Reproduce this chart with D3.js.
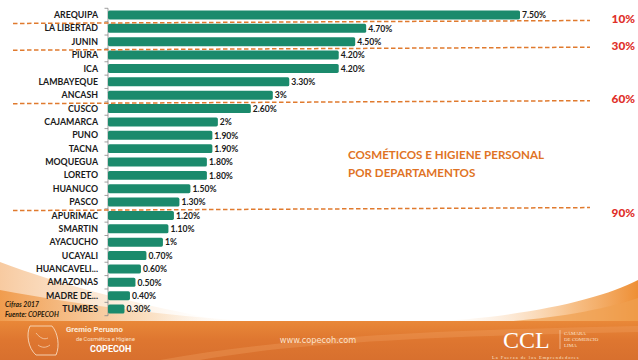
<!DOCTYPE html>
<html><head><meta charset="utf-8">
<script src="https://cdn.jsdelivr.net/npm/d3@7"></script>
<style>html,body{margin:0;padding:0;background:#fff;}svg{display:block;}</style>
</head><body>
<svg id="c" width="638" height="360"></svg>
<script>
const categories = ["AREQUIPA","LA LIBERTAD","JUNIN","PIURA","ICA","LAMBAYEQUE","ANCASH","CUSCO","CAJAMARCA","PUNO","TACNA","MOQUEGUA","LORETO","HUANUCO","PASCO","APURIMAC","SMARTIN","AYACUCHO","UCAYALI","HUANCAVELI...","AMAZONAS","MADRE DE...","TUMBES"];
const values = [7.5,4.7,4.5,4.2,4.2,3.3,3,2.6,2,1.9,1.9,1.8,1.8,1.5,1.3,1.2,1.1,1,0.7,0.6,0.5,0.4,0.3];
const valueLabels = ["7.50%","4.70%","4.50%","4.20%","4.20%","3.30%","3%","2.60%","2%","1.90%","1.90%","1.80%","1.80%","1.50%","1.30%","1.20%","1.10%","1%","0.70%","0.60%","0.50%","0.40%","0.30%"];
const cutAfter = ["AREQUIPA","JUNIN","ANCASH","PASCO"];
const cutLabels = ["10%","30%","60%","90%"];
const titleLines = ["COSMÉTICOS E HIGIENE PERSONAL","POR DEPARTAMENTOS"];
const notes = ["Cifras 2017","Fuente: COPECOH"];

const svg = d3.select("#c");
const defs = svg.append("defs");

// background swooshes
const g1 = defs.append("linearGradient").attr("id","sw1").attr("x1",0).attr("y1",0).attr("x2",1).attr("y2",0);
g1.append("stop").attr("offset","0%").attr("stop-color","#f09a4a").attr("stop-opacity",0.95);
g1.append("stop").attr("offset","60%").attr("stop-color","#f8d2a8").attr("stop-opacity",0.55);
g1.append("stop").attr("offset","100%").attr("stop-color","#fff").attr("stop-opacity",0);
const g2 = defs.append("linearGradient").attr("id","sw2").attr("x1",0).attr("y1",0).attr("x2",1).attr("y2",0);
g2.append("stop").attr("offset","0%").attr("stop-color","#fff").attr("stop-opacity",0);
g2.append("stop").attr("offset","70%").attr("stop-color","#f5b06a").attr("stop-opacity",0.8);
g2.append("stop").attr("offset","100%").attr("stop-color","#ee8f35");
const fg = defs.append("linearGradient").attr("id","foot").attr("x1",0).attr("y1",0).attr("x2",0).attr("y2",1);
fg.append("stop").attr("offset","0%").attr("stop-color","#e98838");
fg.append("stop").attr("offset","50%").attr("stop-color","#de7630");
fg.append("stop").attr("offset","100%").attr("stop-color","#d8702e");

svg.append("path").attr("d","M0,262 C60,285 140,305 230,322 L0,322 Z").attr("fill","url(#sw1)").attr("opacity",0.55);
svg.append("path").attr("d","M0,290 C80,305 160,315 260,322 L0,322 Z").attr("fill","url(#sw1)");
svg.append("path").attr("d","M420,322 C520,318 600,300 638,280 L638,322 Z").attr("fill","url(#sw2)");
svg.append("path").attr("d","M500,322 C560,318 610,308 638,298 L638,322 Z").attr("fill","#f0a050").attr("opacity",0.7);
svg.append("rect").attr("x",0).attr("y",321).attr("width",638).attr("height",39).attr("fill","url(#foot)");
svg.append("path").attr("d","M160,360 C300,335 450,330 638,326 L638,332 C450,336 300,342 200,360 Z").attr("fill","#f0a060").attr("opacity",0.35);

// scales
const y = d3.scaleBand().domain(categories).range([8.3,315.7]).paddingInner(0.33).paddingOuter(0.165);
const x = d3.scaleLinear().domain([0,7.5]).range([108,520]);
const step = y.step();
const ctr = c => y(c) + y.bandwidth()/2;

// axis line + ticks
const ax = svg.append("g");
ax.append("line").attr("x1",x(0)).attr("x2",x(0)).attr("y1",8.3).attr("y2",315.7).attr("stroke","#888").attr("stroke-width",0.8);
ax.selectAll("line.t").data(d3.range(categories.length+1)).join("line").attr("class","t")
  .attr("x1",x(0)-3.5).attr("x2",x(0))
  .attr("y1",i=>8.3+i*step).attr("y2",i=>8.3+i*step)
  .attr("stroke","#888").attr("stroke-width",0.8);

// bars
svg.append("g").selectAll("rect").data(categories).join("rect")
  .attr("x",x(0)).attr("y",d=>y(d)).attr("height",y.bandwidth())
  .attr("width",(d,i)=>x(values[i])-x(0)).attr("rx",1.6)
  .attr("fill","#1b8a6c");

// category labels
svg.append("g").selectAll("text").data(categories).join("text")
  .attr("x",98).attr("y",d=>ctr(d)).attr("dy","0.35em").attr("text-anchor","end")
  .attr("font-family","Lato, sans-serif").attr("font-weight","bold").attr("font-size",8.8)
  .attr("fill","#1a1a1a").text(d=>d);

// value labels
svg.append("g").selectAll("text").data(categories).join("text")
  .attr("x",(d,i)=>x(values[i])+2).attr("y",d=>ctr(d)).attr("dy","0.38em")
  .attr("font-family","Lato, sans-serif").attr("font-weight","bold").attr("font-size",8.6)
  .attr("fill","#1a1a1a").text((d,i)=>valueLabels[i]);

// dashed cut lines
cutAfter.forEach((c,k)=>{
  const b = ctr(c) + step/2;
  svg.append("line").attr("x1",13).attr("x2",590).attr("y1",b+1.8).attr("y2",b-1.2)
    .attr("stroke","#e07a2e").attr("stroke-width",1.5).attr("stroke-dasharray","4.5,2.5");
  svg.append("text").attr("x",635).attr("y",b+(k===3?4:-2.5)).attr("dy","0.35em").attr("text-anchor","end")
    .attr("font-family","Lato, sans-serif").attr("font-weight","900").attr("font-size",11.8)
    .attr("fill","#e0302a").text(cutLabels[k]);
});

// title
svg.append("g").selectAll("text").data(titleLines).join("text")
  .attr("x",348).attr("y",(d,i)=>159+i*18)
  .attr("font-family","Lato, sans-serif").attr("font-weight","bold").attr("font-size",11.6)
  .attr("fill","#e07325").text(d=>d);

// notes
svg.append("g").selectAll("text").data(notes).join("text")
  .attr("x",5).attr("y",(d,i)=>307+i*10)
  .attr("font-family","Lato, sans-serif").attr("font-style","italic").attr("font-weight","bold").attr("font-size",6.8)
  .attr("fill","#2a1a0a").text(d=>d);

// footer
const f = svg.append("g");
f.append("path").attr("d","M30,326 C26,334 28,348 36,355 L56,355 C60,346 58,333 52,326 Z").attr("fill","none").attr("stroke","#f7d9bd").attr("stroke-width",0.9);
f.append("path").attr("d","M36,333 C40,338 44,340 48,338 M38,345 C42,348 46,348 50,345").attr("fill","none").attr("stroke","#f7d9bd").attr("stroke-width",0.7);
f.append("text").attr("x",66).attr("y",332).attr("font-family","Roboto, sans-serif").attr("font-weight","bold").attr("font-size",7.8).attr("fill","#fbe9d8").text("Gremio Peruano");
f.append("text").attr("x",76).attr("y",341).attr("font-family","Roboto, sans-serif").attr("font-size",5.6).attr("fill","#fbe0c8").text("de Cosmética e Higiene");
f.append("text").attr("x",90).attr("y",352).attr("font-family","Roboto, sans-serif").attr("font-weight","bold").attr("font-size",9).attr("fill","#fff").text("COPECOH");
f.append("text").attr("x",318).attr("y",343).attr("text-anchor","middle").attr("font-family","'DejaVu Sans', sans-serif").attr("font-size",8.2).attr("fill","#fbe2cc").text("www.copecoh.com");
f.append("text").attr("x",503).attr("y",347.5).attr("font-family","'Liberation Serif', serif").attr("font-size",24).attr("fill","#fff").text("CCL");
f.append("line").attr("x1",560).attr("x2",560).attr("y1",330).attr("y2",349).attr("stroke","#fbe2cc").attr("stroke-width",0.6);
["CÁMARA","DE COMERCIO","LIMA"].forEach((t,i)=>{
  f.append("text").attr("x",564).attr("y",335+i*6).attr("font-family","'Liberation Serif', serif").attr("font-size",5).attr("fill","#fbe2cc").text(t);
});
f.append("text").attr("x",492).attr("y",358.5).attr("font-family","'Liberation Serif', serif").attr("font-size",4.6).attr("letter-spacing",0.9).attr("fill","#fbe2cc").text("La Fuerza de los Emprendedores");
</script>
</body></html>
